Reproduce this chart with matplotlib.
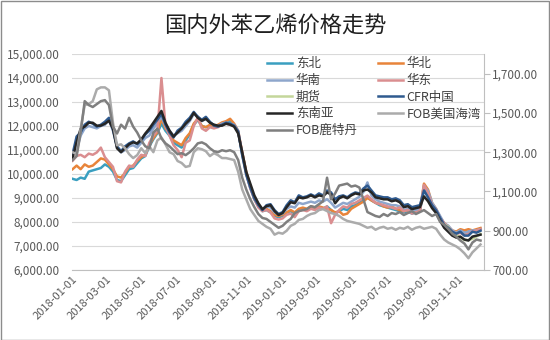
import numpy as np
import pandas as pd
import matplotlib
matplotlib.use('Agg')
import matplotlib.pyplot as plt
from matplotlib.ticker import FuncFormatter
import matplotlib.dates as mdates

plt.rcParams['font.family'] = ['Noto Sans CJK SC', 'DejaVu Sans']

# weekly readings, 2018-01-02 .. 2019-12-10
dates = pd.date_range('2018-01-02', periods=102, freq='7D')

# domestic prices (CNY/t, left axis)
dongbei = [9800, 9750, 9850, 9800, 10100, 10150, 10200, 10250, 10400, 10300,
           10100, 9750, 9700, 9950, 10200, 10250, 10450, 10650, 10750, 11150,
           11450, 11700, 12100, 11800, 11600, 11300, 11200, 11100, 11400, 11650,
           12050, 12250, 12000, 11950, 12000, 11950, 12000, 12100, 12150, 12200,
           12050, 11750, 10850, 10050, 9450, 8950, 8650, 8450, 8500, 8400,
           8250, 8200, 8250, 8400, 8450, 8350, 8500, 8550, 8500, 8600,
           8550, 8600, 8550, 8650, 8500, 8350, 8450, 8550, 8500, 8650,
           8700, 8800, 8900, 9050, 8900, 8800, 8700, 8650, 8600, 8550,
           8500, 8450, 8400, 8450, 8350, 8400, 8450, 9400, 9200, 8700,
           8450, 8150, 7900, 7750, 7600, 7500, 7600, 7550, 7600, 7650,
           7650, 7700]
huabei = [10200, 10350, 10200, 10400, 10300, 10350, 10500, 10650, 10600, 10400,
          10200, 9900, 9850, 10050, 10300, 10350, 10550, 10700, 10800, 11200,
          11500, 11750, 12300, 11900, 11700, 11400, 11300, 11200, 11500, 11700,
          12100, 12300, 12000, 11950, 12050, 12000, 12050, 12150, 12200, 12300,
          12100, 11800, 10900, 10100, 9500, 9000, 8700, 8500, 8550, 8450,
          8300, 8250, 8300, 8400, 8500, 8400, 8550, 8600, 8550, 8650,
          8600, 8650, 8600, 8550, 8500, 8400, 8450, 8300, 8350, 8550,
          8650, 8750, 8850, 9000, 8900, 8800, 8750, 8650, 8600, 8650,
          8550, 8500, 8450, 8500, 8400, 8450, 8500, 9600, 9350, 8800,
          8550, 8200, 7950, 7800, 7650, 7600, 7700, 7650, 7700, 7650,
          7700, 7750]
huanan = [10800, 11000, 11600, 11900, 12000, 11950, 11900, 12000, 12050, 12250,
          11800, 11100, 10900, 11000, 11150, 11200, 11100, 11300, 11500, 11600,
          11900, 12100, 12400, 12000, 11800, 11600, 11700, 11800, 12000, 12200,
          12500, 12400, 12200, 12300, 12150, 12050, 12000, 12100, 12150, 12100,
          12050, 11800, 10800, 10000, 9400, 9000, 8700, 8500, 8650, 8600,
          8400, 8300, 8350, 8550, 8650, 8600, 8800, 8750, 8800, 8850,
          8800, 8900, 8850, 8950, 8800, 8600, 8700, 8800, 8750, 8850,
          8950, 9050, 9250, 9650, 9100, 8950, 8850, 8800, 8750, 8700,
          8700, 8650, 8500, 8550, 8450, 8500, 8550, 9500, 9300, 8800,
          8550, 8250, 7950, 7850, 7650, 7550, 7650, 7550, 7600, 7650,
          7650, 7700]
huadong = [10550, 10750, 10800, 10700, 10850, 10800, 10900, 11100, 10700, 10500,
           10300, 9700, 9650, 10100, 10350, 10300, 10600, 10800, 10750, 11300,
           11600, 11800, 14000, 12000, 11600, 11200, 11000, 10700, 11300, 11400,
           12000, 12350, 11900, 11800, 11950, 11900, 11950, 12050, 12100, 12050,
           12000, 11750, 10900, 10000, 9400, 8950, 8600, 8450, 8500, 8400,
           8150, 8100, 8150, 8300, 8350, 8200, 8450, 8500, 8450, 8550,
           8500, 8600, 8550, 8650, 7950, 8300, 8500, 8650, 8600, 8750,
           8800, 8900, 9000, 9100, 8950, 8800, 8750, 8700, 8650, 8600,
           8550, 8600, 8450, 8500, 8350, 8400, 8450, 9550, 9200, 8700,
           8500, 8150, 7950, 7800, 7600, 7500, 7550, 7450, 7500, 7600,
           7650, 7700]
# futures only listed from late Sep 2019
qihuo = [np.nan] * 91 + [8050, 7900, 7800, 7550, 7450, 7350, 7250, 7250, 7300, 7400,
                         7500]

# international prices (USD/t, right axis)
cfr_china = [1290, 1380, 1400, 1440, 1455, 1445, 1430, 1440, 1455, 1475,
             1415, 1330, 1305, 1330, 1345, 1355, 1340, 1360, 1390, 1410,
             1440, 1465, 1495, 1440, 1400, 1375, 1410, 1425, 1455, 1475,
             1505, 1480, 1465, 1480, 1455, 1435, 1430, 1440, 1450, 1445,
             1435, 1405, 1285, 1185, 1120, 1065, 1030, 1005, 1030, 1035,
             1005, 985, 995, 1030, 1055, 1045, 1080, 1070, 1075, 1085,
             1075, 1090, 1080, 1105, 1095, 1060, 1075, 1080, 1070, 1085,
             1095, 1090, 1115, 1130, 1105, 1080, 1075, 1070, 1070, 1060,
             1065, 1055, 1030, 1035, 1020, 1025, 1030, 1105, 1070, 1030,
             1005, 965, 930, 915, 895, 885, 895, 875, 875, 895,
             890, 900]
sea = [1270, 1350, 1420, 1430, 1450, 1450, 1435, 1435, 1445, 1460,
       1420, 1320, 1300, 1320, 1340, 1350, 1345, 1365, 1395, 1420,
       1450, 1480, 1510, 1450, 1410, 1380, 1400, 1420, 1445, 1465,
       1500, 1475, 1460, 1470, 1450, 1440, 1435, 1435, 1445, 1440,
       1430, 1395, 1300, 1200, 1140, 1080, 1040, 1010, 1025, 1030,
       1000, 980, 990, 1020, 1045, 1040, 1070, 1065, 1070, 1080,
       1070, 1080, 1075, 1095, 1085, 1040, 1065, 1075, 1065, 1080,
       1090, 1085, 1105, 1110, 1095, 1070, 1065, 1060, 1060, 1050,
       1055, 1045, 1020, 1025, 1010, 1015, 1020, 1075, 1050, 1015,
       990, 950, 915, 895, 875, 865, 870, 855, 850, 870,
       875, 880]
fob_usg = [1300, 1290, 1420, 1540, 1545, 1560, 1620, 1630, 1630, 1615,
           1450, 1335, 1340, 1320, 1290, 1270, 1285, 1320, 1295, 1330,
           1300, 1360, 1375, 1340, 1300, 1290, 1255, 1245, 1225, 1230,
           1300, 1320, 1315, 1305, 1280, 1295, 1285, 1270, 1270, 1265,
           1260, 1200, 1110, 1060, 1010, 980, 950, 935, 920, 910,
           880, 890, 885, 900, 925, 935, 955, 960, 975, 985,
           990, 1005, 1010, 1000, 990, 985, 975, 960, 950, 945,
           940, 935, 925, 915, 920, 905, 915, 920, 910, 915,
           905, 915, 910, 920, 905, 915, 920, 910, 915, 920,
           910, 880, 855, 840, 830, 820, 805, 785, 760, 790,
           810, 830]
fob_rtm = [1260, 1280, 1400, 1560, 1540, 1530, 1545, 1560, 1565, 1540,
           1430, 1395, 1440, 1420, 1475, 1430, 1400, 1360, 1330, 1320,
           1400, 1420, 1370, 1345, 1330, 1310, 1290, 1295, 1285, 1300,
           1320, 1345, 1350, 1340, 1320, 1305, 1300, 1310, 1305, 1310,
           1300, 1260, 1170, 1110, 1060, 1020, 985, 965, 960, 945,
           930, 915, 925, 945, 960, 990, 1000, 1005, 1010, 1025,
           1020, 1035, 1050, 1170, 1060, 1090, 1130, 1135, 1140, 1125,
           1130, 1120, 1060, 995, 985, 975, 970, 985, 975, 990,
           985, 995, 980, 990, 1000, 985, 995, 1005, 990, 975,
           985, 945, 930, 910, 885, 870, 850, 835, 805, 840,
           855, 850]

fig = plt.figure(figsize=(5.5, 3.4), dpi=100)
ax = fig.add_axes([72 / 550, 70 / 340, 412 / 550, 216 / 340])
ax2 = ax.twinx()

lw = 1.8
h = {}
h['东北'], = ax.plot(dates, dongbei, color='#3A9FC0', lw=lw)
h['华北'], = ax.plot(dates, huabei, color='#E8843A', lw=lw)
h['华南'], = ax.plot(dates, huanan, color='#8EA6CC', lw=lw)
h['华东'], = ax.plot(dates, huadong, color='#DA8E90', lw=lw)
h['期货'], = ax.plot(dates, qihuo, color='#C4D69B', lw=lw)
h['CFR中国'], = ax2.plot(dates, cfr_china, color='#2F5A8F', lw=lw)
h['东南亚'], = ax2.plot(dates, sea, color='#262626', lw=lw)
h['FOB美国海湾'], = ax2.plot(dates, fob_usg, color='#ABABAB', lw=lw)
h['FOB鹿特丹'], = ax2.plot(dates, fob_rtm, color='#7F7F7F', lw=lw)

tick_col = '#595959'
ax.set_ylim(6000, 15000)
ax.set_yticks(range(6000, 15001, 1000))
ax.yaxis.set_major_formatter(FuncFormatter(lambda v, p: f'{v:,.2f}'))
ax.tick_params(axis='y', length=0, pad=9, labelsize=8.5, labelcolor=tick_col)
ax.yaxis.grid(True, color='#D9D9D9', lw=0.8)
ax.set_axisbelow(True)

ax2.set_ylim(700, 1800)
ax2.set_yticks(range(700, 1701, 200))
ax2.yaxis.set_major_formatter(FuncFormatter(lambda v, p: f'{v:,.2f}'))
ax2.tick_params(axis='y', length=4, width=0.8, color='#BFBFBF', pad=2,
                labelsize=8.5, labelcolor=tick_col)

ax.set_xlim(pd.Timestamp('2018-01-01'), pd.Timestamp('2019-12-16'))
ax.set_xticks(pd.date_range('2018-01-01', '2019-11-01', freq='2MS'))
ax.xaxis.set_major_formatter(mdates.DateFormatter('%Y-%m-%d'))
ax.tick_params(axis='x', length=0, pad=3, labelsize=8, labelcolor=tick_col)
for lab in ax.get_xticklabels():
    lab.set_rotation(45)
    lab.set_ha('right')
    lab.set_rotation_mode('anchor')

for a in (ax, ax2):
    for s in ('top', 'left', 'right', 'bottom'):
        a.spines[s].set_visible(False)
ax.spines['bottom'].set_visible(True)
ax.spines['bottom'].set_color('#BFBFBF')
ax2.spines['right'].set_visible(True)
ax2.spines['right'].set_color('#BFBFBF')

order = ['东北', '华南', '期货', '东南亚', 'FOB鹿特丹', '华北', '华东', 'CFR中国', 'FOB美国海湾']
ax2.legend([h[k] for k in order], order, ncol=2, loc='upper left',
           bbox_to_anchor=(0.455, 1.02), frameon=False, fontsize=9,
           handlelength=2.0, handletextpad=0.3, columnspacing=1.6,
           labelspacing=0.3, borderaxespad=0.2, labelcolor='#404040')

fig.text(0.5, 1 - 26 / 340, '国内外苯乙烯价格走势', ha='center', va='center',
         fontsize=16, fontweight='light', color='#202020')

fig.patches.append(plt.Rectangle((0.001, 0.001), 0.997, 0.997, transform=fig.transFigure,
                                 fill=False, edgecolor='#8C8C8C', lw=1))

fig.savefig('out.png', dpi=100)
